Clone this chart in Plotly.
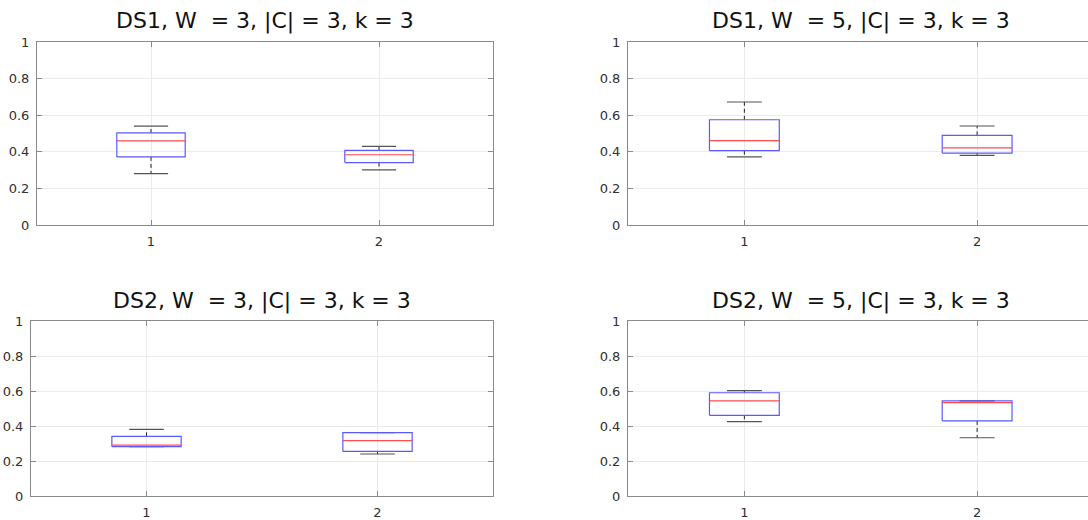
import plotly.graph_objects as go

# ---- data ----
positions = [1, 2]
tick_labels_x = ["1", "2"]
y_ticks = [0, 0.2, 0.4, 0.6, 0.8, 1]
y_tick_labels = ["0", "0.2", "0.4", "0.6", "0.8", "1"]

titles = [
    "DS1, W\u00a0 = 3, |C| = 3, k = 3",
    "DS1, W\u00a0 = 5, |C| = 3, k = 3",
    "DS2, W\u00a0 = 3, |C| = 3, k = 3",
    "DS2, W\u00a0 = 5, |C| = 3, k = 3",
]

ds1_w3_upper = [0.54, 0.43]
ds1_w3_q3 = [0.503, 0.408]
ds1_w3_median = [0.46, 0.384]
ds1_w3_q1 = [0.372, 0.341]
ds1_w3_lower = [0.281, 0.301]

ds1_w5_upper = [0.672, 0.541]
ds1_w5_q3 = [0.575, 0.49]
ds1_w5_median = [0.461, 0.421]
ds1_w5_q1 = [0.406, 0.393]
ds1_w5_lower = [0.372, 0.381]

ds2_w3_upper = [0.381, 0.362]
ds2_w3_q3 = [0.341, 0.362]
ds2_w3_median = [0.291, 0.316]
ds2_w3_q1 = [0.282, 0.255]
ds2_w3_lower = [0.282, 0.24]

ds2_w5_upper = [0.602, 0.543]
ds2_w5_q3 = [0.59, 0.543]
ds2_w5_median = [0.543, 0.533]
ds2_w5_q1 = [0.461, 0.429]
ds2_w5_lower = [0.425, 0.333]

panels = [
    (ds1_w3_lower, ds1_w3_q1, ds1_w3_median, ds1_w3_q3, ds1_w3_upper),
    (ds1_w5_lower, ds1_w5_q1, ds1_w5_median, ds1_w5_q3, ds1_w5_upper),
    (ds2_w3_lower, ds2_w3_q1, ds2_w3_median, ds2_w3_q3, ds2_w3_upper),
    (ds2_w5_lower, ds2_w5_q1, ds2_w5_median, ds2_w5_q3, ds2_w5_upper),
]

# ---- styling / layout ----
W, H = 1088, 520
BOX_HW = 0.15
CAP_HW = 0.075
BOX_COLOR = "#5a5aff"
MED_COLOR = "#ff4d4d"
WHISK_COLOR = "#222222"
CAP_COLOR = "#555555"
AX_COLOR = "#8a8a8a"
GRID_COLOR = "#ebebeb"
FONT = "DejaVu Sans"
TICK_FONT = dict(family=FONT, size=13, color="#303030")

# pixel boxes of each axes: (left, right, top, bottom)
px_boxes = [
    (37, 493, 42, 225),
    (628, 1088, 42, 225),
    (31, 493, 321, 496),
    (628, 1088, 321, 496),
]
x_ranges = [
    [0.5, 2.5],
    [0.5, 0.5 + (1088 - 627.5) / 233.0],
    [0.5, 2.5],
    [0.5, 0.5 + (1088 - 627.5) / 233.0],
]
right_cut = [False, True, False, True]
title_centers = [265, 861, 262, 861]
title_ys = [21.5, 21.5, 300.5, 300.5]

fig = go.Figure()
annotations = []

for k, (lower, q1, med, q3, upper) in enumerate(panels):
    xa = "x" if k == 0 else f"x{k+1}"
    ya = "y" if k == 0 else f"y{k+1}"

    wx, wy, cx, cy, bx, by, mx, my = [], [], [], [], [], [], [], []
    for i, p in enumerate(positions):
        wx += [p, p, None, p, p, None]
        wy += [q3[i], upper[i], None, q1[i], lower[i], None]
        cx += [p - CAP_HW, p + CAP_HW, None, p - CAP_HW, p + CAP_HW, None]
        cy += [upper[i], upper[i], None, lower[i], lower[i], None]
        bx += [p - BOX_HW, p + BOX_HW, p + BOX_HW, p - BOX_HW, p - BOX_HW, None]
        by += [q1[i], q1[i], q3[i], q3[i], q1[i], None]
        mx += [p - BOX_HW, p + BOX_HW, None]
        my += [med[i], med[i], None]

    common = dict(xaxis=xa, yaxis=ya, mode="lines", showlegend=False, hoverinfo="skip")
    fig.add_trace(go.Scatter(x=wx, y=wy, line=dict(color=WHISK_COLOR, width=1, dash="4px,3px"), **common))
    fig.add_trace(go.Scatter(x=cx, y=cy, line=dict(color=CAP_COLOR, width=1.2), **common))
    fig.add_trace(go.Scatter(x=bx, y=by, line=dict(color=BOX_COLOR, width=1.2), **common))
    fig.add_trace(go.Scatter(x=mx, y=my, line=dict(color=MED_COLOR, width=1.2), **common))

    l, r, t, b = px_boxes[k]
    xdom = [l / W, r / W]
    ydom = [1 - b / H, 1 - t / H]

    xkey = "xaxis" if k == 0 else f"xaxis{k+1}"
    ykey = "yaxis" if k == 0 else f"yaxis{k+1}"
    fig.layout[xkey] = dict(
        domain=xdom, anchor=ya, range=x_ranges[k],
        tickmode="array", tickvals=positions, ticktext=tick_labels_x,
        showgrid=True, gridcolor=GRID_COLOR, gridwidth=1,
        showline=True, linecolor=AX_COLOR, linewidth=1, mirror="ticks",
        ticks="inside", ticklen=5, tickcolor=AX_COLOR,
        tickfont=TICK_FONT, ticklabelstandoff=4, automargin=False,
        zeroline=False, fixedrange=True,
    )
    fig.layout[ykey] = dict(
        domain=ydom, anchor=xa, range=[0, 1],
        tickmode="array", tickvals=y_ticks, ticktext=y_tick_labels,
        showgrid=True, gridcolor=GRID_COLOR, gridwidth=1,
        showline=True, linecolor=AX_COLOR, linewidth=1,
        mirror=False if right_cut[k] else "ticks",
        ticks="inside", ticklen=5, tickcolor=AX_COLOR,
        tickfont=TICK_FONT, ticklabelstandoff=4, automargin=False,
        zeroline=False, fixedrange=True,
    )

    annotations.append(dict(
        text=titles[k], xref="paper", yref="paper",
        x=title_centers[k] / W, y=1 - title_ys[k] / H,
        xanchor="center", yanchor="middle", showarrow=False,
        font=dict(family=FONT, size=22, color="#111111"),
    ))

fig.update_layout(
    width=W, height=H, autosize=False,
    margin=dict(l=0, r=0, t=0, b=0, pad=0),
    paper_bgcolor="white", plot_bgcolor="white",
    annotations=annotations,
)

fig.write_html(
    "out.html",
    config={"displayModeBar": False},
    post_script="document.body.style.margin='0';document.body.style.padding='0';document.body.style.overflow='hidden';",
)
